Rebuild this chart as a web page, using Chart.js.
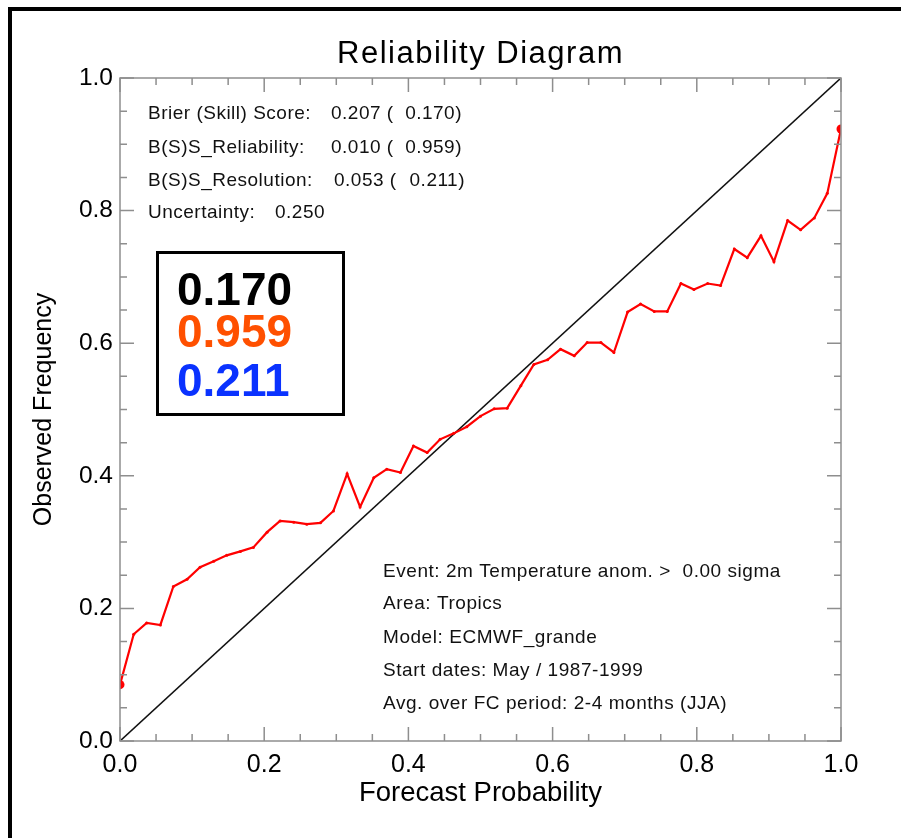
<!DOCTYPE html>
<html>
<head>
<meta charset="utf-8">
<title>Reliability Diagram</title>
<script src="https://cdn.jsdelivr.net/npm/chart.js@4.4.1/dist/chart.umd.min.js"></script>
<style>
  body { margin: 0; background: #fff; overflow: hidden; }
  #wrap { position: relative; width: 901px; height: 838px; overflow: hidden; }
  #frame { position: absolute; left: 8px; top: 7px; width: 1000px; height: 1000px;
           border-left: 4px solid #000; border-top: 4px solid #000; }
  #chart { position: absolute; left: 0; top: 0; }
</style>
</head>
<body>
<div id="wrap">
  <div id="frame"></div>
  <canvas id="chart" width="901" height="838"></canvas>
</div>
<script>
// forecast probability bins and observed frequency
const forecastProb = [
  0.000, 0.019, 0.037, 0.056, 0.074, 0.093, 0.111, 0.130, 0.148, 0.167,
  0.185, 0.204, 0.222, 0.241, 0.259, 0.278, 0.296, 0.315, 0.333, 0.352,
  0.370, 0.389, 0.407, 0.426, 0.444, 0.463, 0.481, 0.500, 0.519, 0.537,
  0.556, 0.574, 0.593, 0.611, 0.630, 0.648, 0.667, 0.685, 0.704, 0.722,
  0.741, 0.759, 0.778, 0.796, 0.815, 0.833, 0.852, 0.870, 0.889, 0.907,
  0.926, 0.944, 0.963, 0.981, 1.000
];
const observedFreq = [
  0.085, 0.161, 0.178, 0.175, 0.233, 0.244, 0.262, 0.271, 0.280, 0.286,
  0.292, 0.315, 0.332, 0.330, 0.327, 0.329, 0.347, 0.403, 0.353, 0.397,
  0.410, 0.405, 0.445, 0.435, 0.455, 0.464, 0.474, 0.490, 0.501, 0.502,
  0.536, 0.568, 0.575, 0.591, 0.581, 0.601, 0.601, 0.586, 0.647, 0.659,
  0.648, 0.648, 0.690, 0.681, 0.690, 0.687, 0.742, 0.729, 0.762, 0.723,
  0.785, 0.771, 0.789, 0.826, 0.923
];
const diagonal = [0, 1];

const tickValues = [0, 0.2, 0.4, 0.6, 0.8, 1.0];
const minorTickValues = [0.05, 0.1, 0.15, 0.25, 0.3, 0.35, 0.45, 0.5, 0.55,
                         0.65, 0.7, 0.75, 0.85, 0.9, 0.95];

const titleText = 'Reliability Diagram';
const scoreLabels = ['Brier (Skill) Score:', 'B(S)S_Reliability:', 'B(S)S_Resolution:', 'Uncertainty:'];
const scoreValues = ['0.207', '0.010', '0.053', '0.250'];
const skillValues = ['0.170', '0.959', '0.211', ''];
const infoLines = [
  'Event: 2m Temperature anom. >  0.00 sigma',
  'Area: Tropics',
  'Model: ECMWF_grande',
  'Start dates: May / 1987-1999',
  'Avg. over FC period: 2-4 months (JJA)'
];
const skillColors = ['#000000', '#ff5000', '#0a32ff'];

const FONT = '"Liberation Sans", Arial, Helvetica, sans-serif';
const axisGray = '#8e8e8e';

const overlay = {
  id: 'overlay',
  afterDraw(chart) {
    const { ctx, chartArea: a, scales: { x, y } } = chart;
    ctx.save();

    // plot box
    ctx.strokeStyle = axisGray;
    ctx.lineWidth = 1.5;
    ctx.strokeRect(a.left, a.top, a.right - a.left, a.bottom - a.top);

    // inward ticks on all four sides
    const tick = (v, len) => {
      const px = x.getPixelForValue(v);
      const py = y.getPixelForValue(v);
      ctx.beginPath();
      ctx.moveTo(px, a.bottom); ctx.lineTo(px, a.bottom - len);
      ctx.moveTo(px, a.top); ctx.lineTo(px, a.top + len);
      ctx.moveTo(a.left, py); ctx.lineTo(a.left + len, py);
      ctx.moveTo(a.right, py); ctx.lineTo(a.right - len, py);
      ctx.stroke();
    };
    tickValues.forEach(v => tick(v, 14));
    minorTickValues.forEach(v => tick(v, 7));

    // title, centred on the plot
    ctx.fillStyle = '#000';
    ctx.font = '31px ' + FONT;
    ctx.letterSpacing = '1.5px';
    ctx.textAlign = 'center';
    ctx.textBaseline = 'alphabetic';
    ctx.fillText(titleText, (a.left + a.right) / 2, 63);

    // score text
    ctx.fillStyle = '#111';
    ctx.font = '19px ' + FONT;
    ctx.letterSpacing = '0.5px';
    const base = [119, 153, 186, 218];
    const valX = [331, 331, 334, 275];
    scoreLabels.forEach((t, i) => {
      ctx.textAlign = 'left';
      ctx.fillText(t, 148, base[i]);
      if (skillValues[i]) {
        ctx.fillText(scoreValues[i] + ' (', valX[i], base[i]);
        ctx.textAlign = 'right';
        ctx.fillText(skillValues[i] + ')', valX[i] + 131, base[i]);
      } else {
        ctx.fillText(scoreValues[i], valX[i], base[i]);
      }
    });

    // boxed skill scores
    ctx.letterSpacing = '0px';
    ctx.strokeStyle = '#000';
    ctx.lineWidth = 3;
    ctx.strokeRect(157.5, 252.5, 186, 162);
    ctx.font = 'bold 46px ' + FONT;
    ctx.textAlign = 'left';
    const bigBase = [305, 347, 396];
    skillColors.forEach((c, i) => {
      ctx.fillStyle = c;
      ctx.fillText(skillValues[i], 177, bigBase[i]);
    });

    // event info
    ctx.fillStyle = '#111';
    ctx.font = '19px ' + FONT;
    ctx.letterSpacing = '0.55px';
    const infoBase = [577, 609, 643, 676, 709];
    infoLines.forEach((t, i) => ctx.fillText(t, 383, infoBase[i]));

    ctx.restore();
  }
};

new Chart(document.getElementById('chart'), {
  type: 'scatter',
  data: {
    datasets: [
      {
        label: 'Reliability',
        data: forecastProb.map((p, i) => ({ x: p, y: observedFreq[i] })),
        showLine: true,
        borderColor: '#ff0000',
        backgroundColor: '#ff0000',
        borderWidth: 2.2,
        pointRadius: ctx => (ctx.dataIndex === 0 || ctx.dataIndex === forecastProb.length - 1) ? 4.5 : 1.5,
        pointBorderWidth: 0,
        clip: 0
      },
      {
        label: 'Perfect reliability',
        data: diagonal.map(v => ({ x: v, y: v })),
        showLine: true,
        borderColor: '#111',
        borderWidth: 1.6,
        pointRadius: 0
      }
    ]
  },
  options: {
    responsive: false,
    animation: false,
    layout: { padding: { left: 0, right: 60, top: 78, bottom: 0 } },
    plugins: {
      legend: { display: false },
      tooltip: { enabled: false },
      title: { display: false }
    },
    scales: {
      x: {
        type: 'linear',
        min: 0, max: 1,
        afterBuildTicks: s => { s.ticks = tickValues.map(v => ({ value: v })); },
        afterFit: s => { s.height = 97; },
        grid: { display: false, drawTicks: false },
        border: { display: false },
        ticks: {
          color: '#000',
          padding: 9,
          maxRotation: 0,
          font: { family: FONT, size: 25 },
          callback: v => v.toFixed(1)
        },
        title: {
          display: true,
          text: 'Forecast Probability',
          color: '#000',
          font: { family: FONT, size: 27.5 },
          padding: { top: 0, bottom: 28 }
        }
      },
      y: {
        type: 'linear',
        min: 0, max: 1,
        afterBuildTicks: s => { s.ticks = tickValues.map(v => ({ value: v })); },
        afterFit: s => { s.width = 120; },
        grid: { display: false, drawTicks: false },
        border: { display: false },
        ticks: {
          color: '#000',
          padding: 7,
          font: { family: FONT, size: 24.5 },
          callback: v => v.toFixed(1)
        },
        title: {
          display: true,
          text: 'Observed Frequency',
          color: '#000',
          font: { family: FONT, size: 25 },
          padding: { top: 29, bottom: 0 }
        }
      }
    }
  },
  plugins: [overlay]
});
</script>
</body>
</html>
